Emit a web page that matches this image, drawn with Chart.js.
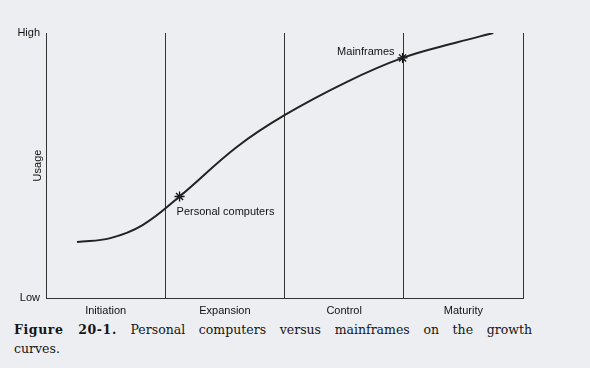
<!DOCTYPE html>
<html>
<head>
<meta charset="utf-8">
<script src="https://cdn.jsdelivr.net/npm/chart.js@4.4.1/dist/chart.umd.min.js"></script>
<style>
    html, body {
        margin: 0;
        padding: 0;
        width: 590px;
        height: 368px;
        overflow: hidden;
        background: #eceef2;
    }
    #wrap {
        position: absolute;
        left: 0;
        top: 0;
        width: 590px;
        height: 320px;
    }
    #caption {
        position: absolute;
        left: 14px;
        top: 320px;
        width: 518px;
        font-family: "DejaVu Serif", serif;
        font-size: 12.5px;
        line-height: 19px;
        color: #151515;
    }
    #caption .line1 {
        text-align: justify;
        text-align-last: justify;
    }
    #caption b {
        font-weight: bold;
        letter-spacing: 0.6px;
    }
</style>
</head>
<body>
<div id="wrap"><canvas id="chart"></canvas></div>
<div id="caption">
    <div class="line1"><b>Figure 20-1.</b> Personal computers versus mainframes on the growth</div>
    <div>curves.</div>
</div>
<script>
document.addEventListener('DOMContentLoaded', function() {
    // Data
    const phases = ['Initiation', 'Expansion', 'Control', 'Maturity'];
    const levelLabels = ['Low', 'High'];
    const usageX = [0.26, 0.54, 0.81, 1.12, 1.60, 2.0, 2.52, 2.99, 3.45, 3.75];
    const usageY = [21.1, 22.6, 27.5, 38.3, 57.0, 69.0, 81.5, 90.6, 96.5, 100];
    const markerNames = ['Personal computers', 'Mainframes'];
    const markerX = [1.12, 2.99];
    const markerY = [38.3, 90.6];

    const ink = '#111111';
    const labelFont = { family: '"Liberation Sans", Arial, sans-serif', size: 11 };

    // Text next to the two markers
    const markerLabels = {
        id: 'markerLabels',
        afterDatasetsDraw(chart) {
            const meta = chart.getDatasetMeta(1);
            const c = chart.ctx;
            c.save();
            c.fillStyle = ink;
            c.font = '11px "Liberation Sans", Arial, sans-serif';
            c.textBaseline = 'middle';
            meta.data.forEach((pt, i) => {
                if (i === 0) {
                    c.textAlign = 'left';
                    c.fillText(markerNames[i], pt.x - 3, pt.y + 15);
                } else {
                    c.textAlign = 'right';
                    c.fillText(markerNames[i], pt.x - 8, pt.y - 6);
                }
            });
            c.restore();
        }
    };

    const ctx = document.getElementById('chart').getContext('2d');
    new Chart(ctx, {
        type: 'line',
        data: {
            datasets: [{
                data: usageX.map((x, i) => ({ x: x, y: usageY[i] })),
                borderColor: '#222222',
                borderWidth: 2,
                pointRadius: 0,
                tension: 0.4,
                fill: false
            }, {
                type: 'scatter',
                data: markerX.map((x, i) => ({ x: x, y: markerY[i] })),
                pointStyle: 'star',
                pointRadius: 5,
                borderColor: ink,
                borderWidth: 1.3,
                backgroundColor: ink
            }]
        },
        options: {
            responsive: true,
            maintainAspectRatio: false,
            animation: false,
            layout: { padding: { left: 0, top: 33, right: 67, bottom: 0 } },
            plugins: {
                legend: { display: false },
                tooltip: { enabled: false }
            },
            scales: {
                x: {
                    type: 'linear',
                    position: 'bottom',
                    min: 0,
                    max: 4,
                    afterBuildTicks: function(scale) {
                        scale.ticks = phases.map((p, i) => ({ value: i + 0.5 }));
                    },
                    afterFit: function(scale) { scale.height = 22; },
                    grid: { display: false, drawTicks: false },
                    border: { display: true, color: '#333333', width: 1 },
                    ticks: {
                        padding: 6,
                        color: ink,
                        font: labelFont,
                        maxRotation: 0,
                        callback: function(v) { return phases[Math.floor(v)]; }
                    }
                },
                xg: {
                    type: 'linear',
                    position: 'top',
                    min: 0,
                    max: 4,
                    afterBuildTicks: function(scale) {
                        scale.ticks = [1, 2, 3, 4].map(v => ({ value: v }));
                    },
                    afterFit: function(scale) { scale.height = 0; },
                    grid: { display: true, drawTicks: false, color: '#333333', lineWidth: 1 },
                    border: { display: false },
                    ticks: { display: false }
                },
                y: {
                    min: 0,
                    max: 100,
                    afterBuildTicks: function(scale) {
                        scale.ticks = [{ value: 0 }, { value: 100 }];
                    },
                    afterFit: function(scale) { scale.width = 46; },
                    grid: { display: false, drawTicks: false },
                    border: { display: true, color: '#333333', width: 1 },
                    ticks: {
                        padding: 6,
                        color: ink,
                        font: labelFont,
                        callback: function(v) { return v === 0 ? levelLabels[0] : levelLabels[1]; }
                    },
                    title: {
                        display: true,
                        text: 'Usage',
                        color: ink,
                        font: labelFont,
                        padding: { top: 31, bottom: 0 }
                    }
                }
            }
        },
        plugins: [markerLabels]
    });
});
</script>
</body>
</html>
